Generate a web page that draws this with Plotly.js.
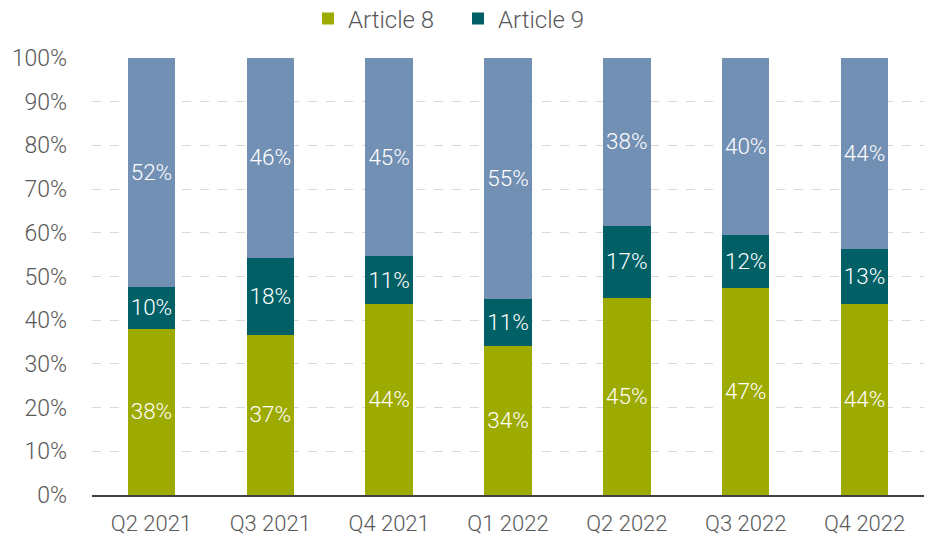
<!DOCTYPE html>
<html>
<head>
<meta charset="utf-8">
<script src="https://cdn.plot.ly/plotly-3.0.1.min.js"></script>
<style>html,body{margin:0;padding:0;background:#fff;}#chart{width:931px;height:537px;}</style>
</head>
<body>
<div id="chart"></div>
<script>
const categories = ["Q2 2021","Q3 2021","Q4 2021","Q1 2022","Q2 2022","Q3 2022","Q4 2022"];
const article8 = [38.0, 36.6, 43.6, 34.2, 45.0, 47.4, 43.6];
const article9 = [9.6, 17.6, 11.0, 10.6, 16.6, 12.2, 12.8];
const other    = [52.4, 45.8, 45.4, 55.2, 38.4, 40.4, 43.6];
const yTicks = [0,10,20,30,40,50,60,70,80,90,100];
const yTickLabels = yTicks.map(v => v + "%");

const FONT = "Roboto, 'Liberation Sans', sans-serif";
const W = 300;
const common = {
  type: "bar",
  x: categories,
  texttemplate: "%{y:.0f}%",
  textposition: "inside",
  insidetextanchor: "middle",
  textangle: 0,
  insidetextfont: {family: FONT, size: 23, color: "#ffffff", weight: W},
  hoverinfo: "skip",
  cliponaxis: false
};
const traces = [
  Object.assign({}, common, {name: "Article 8", y: article8, marker: {color: "#9DAA00"}}),
  Object.assign({}, common, {name: "Article 9", y: article9, marker: {color: "#006066"}}),
  Object.assign({}, common, {name: "Other", y: other, marker: {color: "#728FB4"}, showlegend: false})
];
const layout = {
  width: 931, height: 537,
  barmode: "stack",
  bargap: 0.6,
  margin: {l: 92, r: 7, t: 58, b: 42, autoexpand: false},
  paper_bgcolor: "#ffffff",
  plot_bgcolor: "#ffffff",
  font: {family: FONT, size: 23, color: "#595959", weight: W},
  showlegend: true,
  legend: {
    orientation: "h", x: 308/931, xref: "container", xanchor: "left",
    y: 1 - 19/537, yref: "container", yanchor: "middle",
    font: {family: FONT, size: 24, color: "#595959", weight: W},
    traceorder: "normal", itemwidth: 30,
    entrywidth: 105, entrywidthmode: "pixels"
  },
  xaxis: {
    type: "category",
    showgrid: false,
    showline: true, linecolor: "#404040", linewidth: 1.5,
    ticks: "", tickfont: {family: FONT, size: 22, color: "#595959", weight: W},
    ticklabelstandoff: 8
  },
  yaxis: {
    range: [0, 100],
    tickvals: yTicks, ticktext: yTickLabels,
    showgrid: true, gridcolor: "#d9d9d9", griddash: "dash", gridwidth: 1,
    zeroline: false, showline: false, ticks: "",
    tickfont: {family: FONT, size: 23, color: "#595959", weight: W},
    ticklabelstandoff: 24
  }
};
Plotly.newPlot("chart", traces, layout, {displayModeBar: false, staticPlot: true});
</script>
</body>
</html>
